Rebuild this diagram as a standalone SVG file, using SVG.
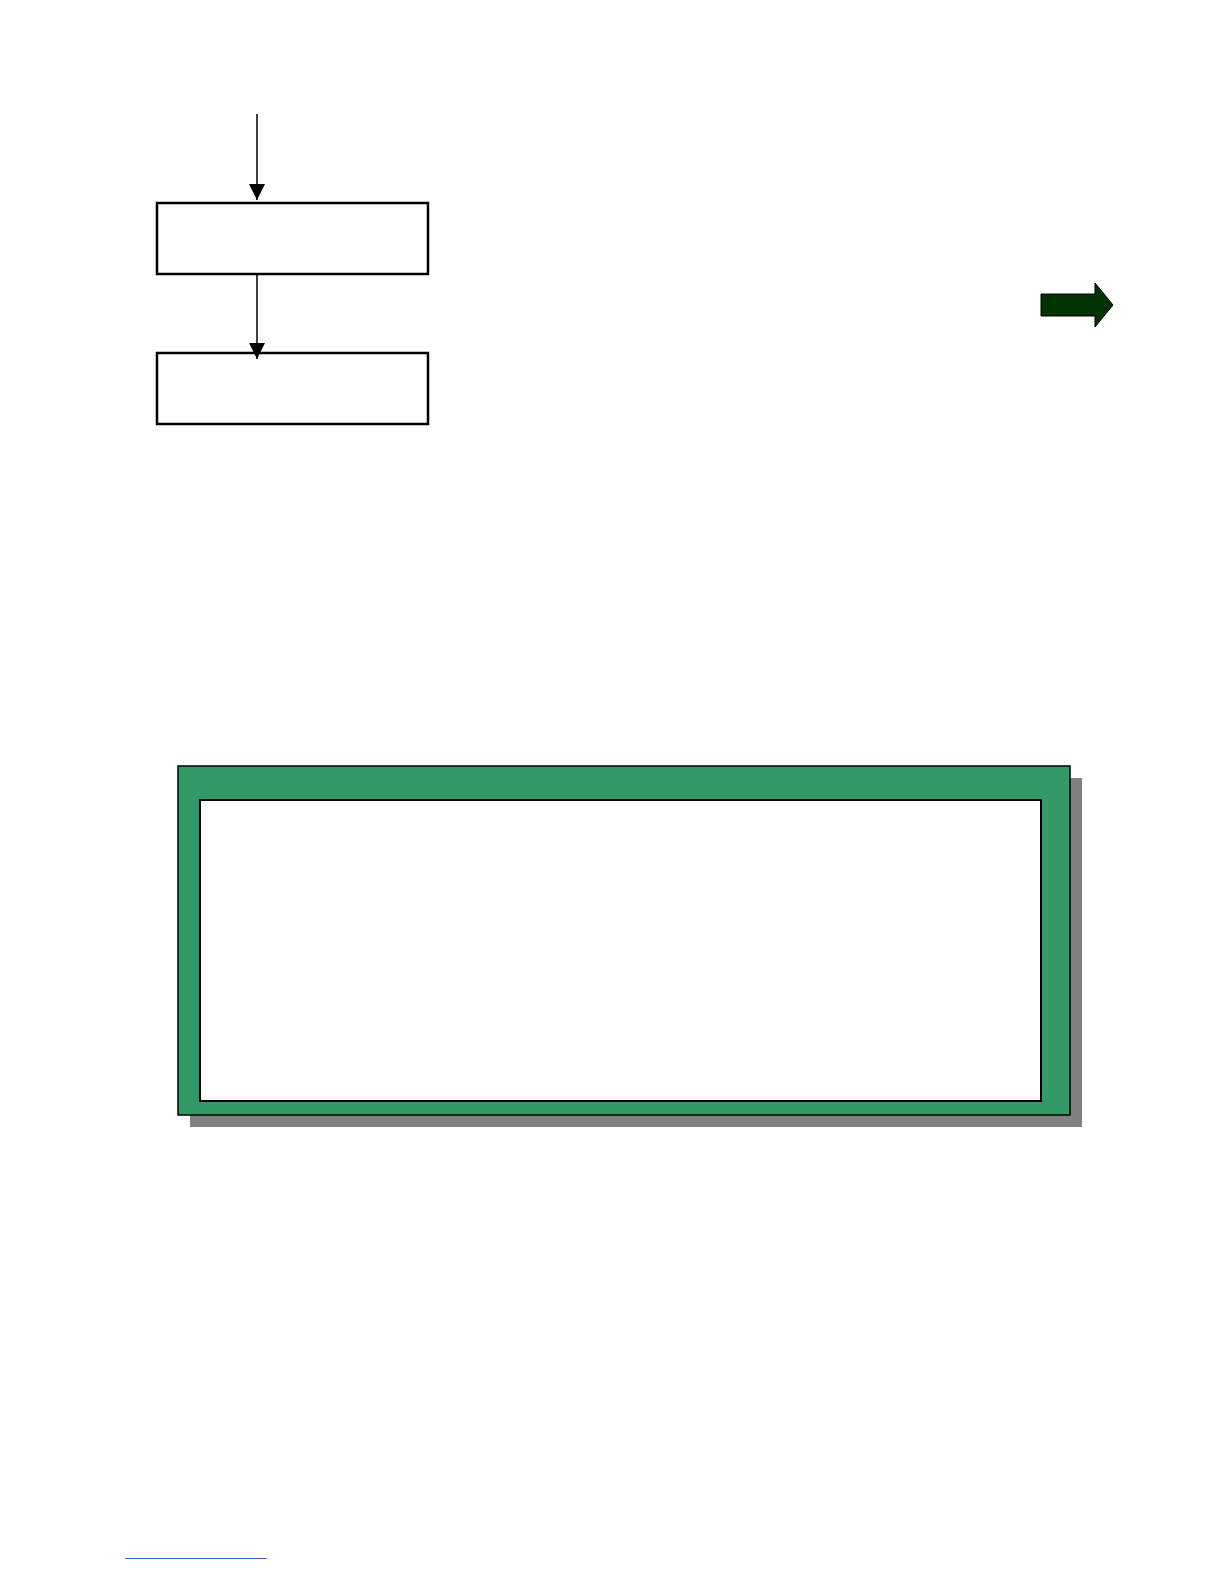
<svg xmlns="http://www.w3.org/2000/svg" width="1224" height="1584" viewBox="0 0 1224 1584">
<style>
.box{fill:#fff;stroke:#000;stroke-width:2.5}
.conn{stroke:#000;stroke-width:1.5;fill:none}
</style>
<defs>
<marker id="ah" markerWidth="16" markerHeight="18" refX="16" refY="9" orient="auto" markerUnits="userSpaceOnUse">
<path d="M0,1 L16,9 L0,17 Z" fill="#000"/>
</marker>
</defs>
<rect width="1224" height="1584" fill="#fff"/>
<g id="box1"><rect class="box" x="157" y="203" width="271" height="71"/></g>
<g id="box2"><rect class="box" x="157" y="353" width="271" height="71"/></g>
<g id="connectors">
<line class="conn" x1="257" y1="114" x2="257" y2="200" marker-end="url(#ah)"/>
<line class="conn" x1="257" y1="275" x2="257" y2="359" marker-end="url(#ah)"/>
</g>
<g id="green-arrow"><path d="M1041,294 L1095,294 L1095,283 L1113,305 L1095,327 L1095,316 L1041,316 Z" fill="#003300" stroke="#000" stroke-width="1"/></g>
<g id="frame">
<rect x="190" y="778" width="892" height="349" fill="#808080"/>
<rect x="178" y="766" width="892" height="349" fill="#339966" stroke="#000" stroke-width="1.5"/>
<rect x="200" y="800" width="841" height="301" fill="#fff" stroke="#000" stroke-width="2"/>
</g>
<line x1="125" y1="1558.5" x2="267" y2="1558.5" stroke="#3366cc" stroke-width="1"/>
</svg>
